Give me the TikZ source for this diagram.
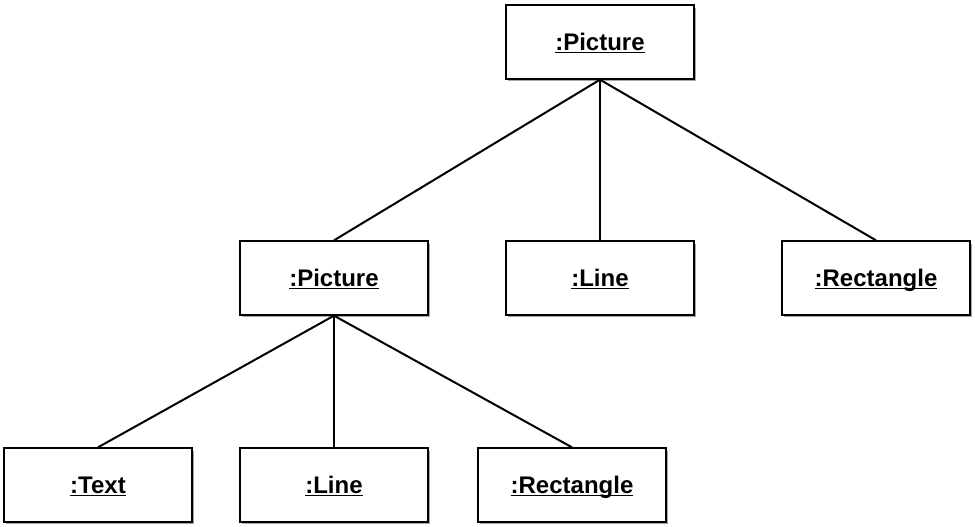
\documentclass[tikz,border=0pt]{standalone}
\usepackage{fontspec}
\setmainfont{Liberation Sans}
\usetikzlibrary{shadows}
\newcommand{\objname}[1]{\underline{\raisebox{0pt}[\height][0pt]{\textbf{#1}}}}
\begin{document}
\begin{tikzpicture}
            [x=0.75pt, y=-0.75pt,
            objbox/.style={draw=black, fill=white, line width=1.5pt, minimum width=141pt, minimum height=55pt, inner sep=0pt, text height=17pt, text depth=4pt, font=\fontsize{18}{21}\selectfont,
                drop shadow={shadow xshift=1.5pt, shadow yshift=-2pt, opacity=0.35, fill=black}},
            link/.style={line width=1.5pt}]

            \useasboundingbox (0,0) rectangle (975,527);

            \node[objbox] (pic) at (600,42) {\objname{:Picture}};
            \node[objbox] (subpic) at (334,278) {\objname{:Picture}};
            \node[objbox] (line) at (600,278) {\objname{:Line}};
            \node[objbox] (rect) at (876,278) {\objname{:Rectangle}};
            \node[objbox] (text) at (98,485) {\objname{:Text}};
            \node[objbox] (subline) at (334,485) {\objname{:Line}};
            \node[objbox] (subrect) at (572,485) {\objname{:Rectangle}};

            \draw[link] (pic.south) -- (subpic.north);
            \draw[link] (pic.south) -- (line.north);
            \draw[link] (pic.south) -- (rect.north);
            \draw[link] (subpic.south) -- (text.north);
            \draw[link] (subpic.south) -- (subline.north);
            \draw[link] (subpic.south) -- (subrect.north);

        \end{tikzpicture}
\end{document}
